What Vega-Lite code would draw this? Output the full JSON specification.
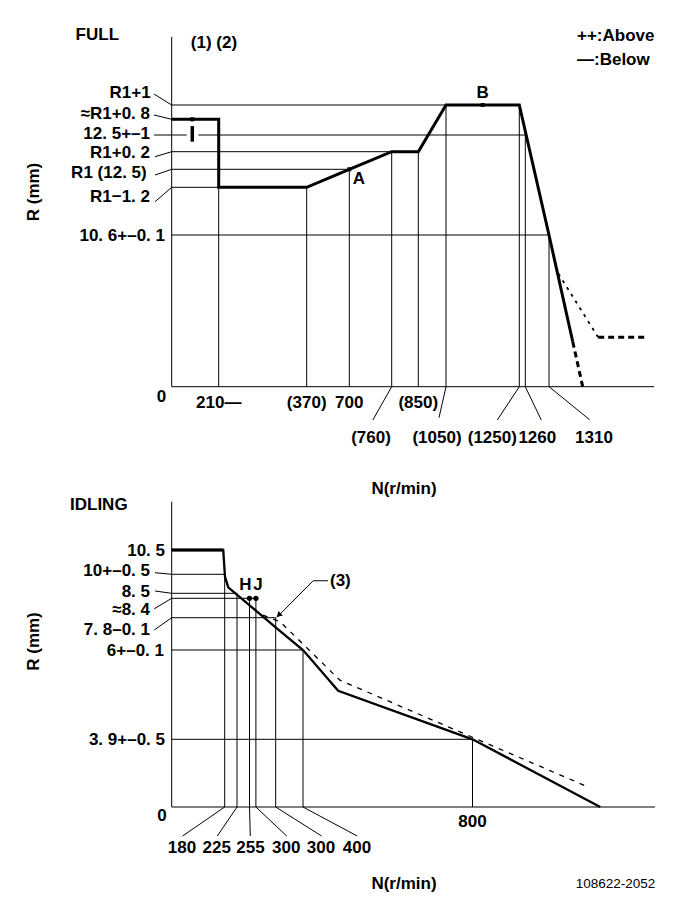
{
  "$schema": "https://vega.github.io/schema/vega-lite/v6.json",
  "padding": 0,
  "background": "white",
  "spacing": 0,
  "bounds": "flush",
  "config": {
    "view": {"stroke": null},
    "text": {"font": "Liberation Sans, Arial, sans-serif", "fontSize": 17, "fontWeight": "bold", "baseline": "middle", "align": "center", "color": "black"},
    "rule": {"color": "black", "strokeWidth": 1},
    "line": {"color": "black"},
    "point": {"color": "black"}
  },
  "vconcat": [
    {
      "width": 681,
      "height": 496,
      "encoding": {
        "x": {"field": "rpm", "type": "quantitative", "axis": null,
              "scale": {"domain": [0, 210, 370, 700, 760, 850, 1050, 1250, 1260, 1310, 1500], "range": [171.7, 218.7, 306.7, 349.3, 391.7, 418.3, 446, 519.3, 525.3, 549, 654], "nice": false, "zero": false}},
        "y": {"field": "mm", "type": "quantitative", "axis": null,
              "scale": {"domain": [0, 10.6, 11.3, 12.5, 12.7, 13.0, 13.3, 13.5, 14.5], "range": [386.7, 235, 187.3, 169.3, 151.7, 135, 119.3, 105, 37], "nice": false, "zero": false}}
      },
      "layer": [
        {"data": {"values": [
          {"rpm": 0, "mm": 0, "rpm2": 1500, "mm2": 0},
          {"rpm": 0, "mm": 0, "rpm2": 0, "mm2": 14.5},
          {"rpm": 0, "mm": 13.5, "rpm2": 1050, "mm2": 13.5},
          {"rpm": 0, "mm": 13.0, "rpm2": 67, "mm2": 13.0},
          {"rpm": 119, "mm": 13.0, "rpm2": 1260, "mm2": 13.0},
          {"rpm": 0, "mm": 12.7, "rpm2": 760, "mm2": 12.7},
          {"rpm": 0, "mm": 12.5, "rpm2": 700, "mm2": 12.5},
          {"rpm": 0, "mm": 11.3, "rpm2": 210, "mm2": 11.3},
          {"rpm": 0, "mm": 10.6, "rpm2": 1310, "mm2": 10.6},
          {"rpm": 210, "mm": 0, "rpm2": 210, "mm2": 13.3},
          {"rpm": 370, "mm": 0, "rpm2": 370, "mm2": 11.3},
          {"rpm": 700, "mm": 0, "rpm2": 700, "mm2": 12.5},
          {"rpm": 760, "mm": 0, "rpm2": 760, "mm2": 12.7},
          {"rpm": 850, "mm": 0, "rpm2": 850, "mm2": 12.7},
          {"rpm": 1050, "mm": 0, "rpm2": 1050, "mm2": 13.5},
          {"rpm": 1250, "mm": 0, "rpm2": 1250, "mm2": 13.5},
          {"rpm": 1260, "mm": 0, "rpm2": 1260, "mm2": 13.0},
          {"rpm": 1310, "mm": 0, "rpm2": 1310, "mm2": 10.6}
        ]}, "mark": {"type": "rule"}, "encoding": {"x2": {"field": "rpm2"}, "y2": {"field": "mm2"}}},
        {"data": {"values": [
          {"o": 1, "rpm": 0, "mm": 13.3}, {"o": 2, "rpm": 210, "mm": 13.3}, {"o": 3, "rpm": 210, "mm": 11.3},
          {"o": 4, "rpm": 370, "mm": 11.3}, {"o": 5, "rpm": 700, "mm": 12.5}, {"o": 6, "rpm": 760, "mm": 12.7},
          {"o": 7, "rpm": 850, "mm": 12.7}, {"o": 8, "rpm": 1050, "mm": 13.5}, {"o": 9, "rpm": 1250, "mm": 13.5},
          {"o": 10, "rpm": 1310, "mm": 10.6}, {"o": 11, "rpm": 1353, "mm": 3.14}
        ]}, "mark": {"type": "line", "strokeWidth": 3}, "encoding": {"order": {"field": "o"}}},
        {"data": {"values": [{"o": 1, "rpm": 1353, "mm": 3.14}, {"o": 2, "rpm": 1371, "mm": 0}]},
         "mark": {"type": "line", "strokeWidth": 3, "strokeDash": [6, 4]}, "encoding": {"order": {"field": "o"}}},
        {"data": {"values": [{"o": 1, "rpm": 1327, "mm": 7.9}, {"o": 2, "rpm": 1399, "mm": 3.45}]},
         "mark": {"type": "line", "strokeWidth": 1.8, "strokeDash": [3, 5]}, "encoding": {"order": {"field": "o"}}},
        {"data": {"values": [{"o": 1, "rpm": 1399, "mm": 3.45}, {"o": 2, "rpm": 1485, "mm": 3.45}]},
         "mark": {"type": "line", "strokeWidth": 3, "strokeDash": [6, 4]}, "encoding": {"order": {"field": "o"}}},
        {"data": {"values": [{"rpm": 92, "mm": 12.88, "rpm2": 92, "mm2": 13.17}]},
         "mark": {"type": "rule", "strokeWidth": 3.5}, "encoding": {"x2": {"field": "rpm2"}, "y2": {"field": "mm2"}}},
        {"data": {"values": [{"rpm": 92, "mm": 13.3}, {"rpm": 700, "mm": 12.5}, {"rpm": 1150, "mm": 13.5}]},
         "mark": {"type": "point", "shape": "square", "filled": true, "size": 16, "opacity": 1}},

        {"data": {"values": [{"rpm": 210, "mm": 0, "t": "210—"}, {"rpm": 370, "mm": 0, "t": "(370)"}, {"rpm": 700, "mm": 0, "t": "700"}, {"rpm": 850, "mm": 0, "t": "(850)"}]},
         "mark": {"type": "text", "dy": 16.6}, "encoding": {"text": {"field": "t"}}},
        {"data": {"values": [{"rpm": 760, "mm": 0, "t": "(760)"}]}, "mark": {"type": "text", "dx": -20.7, "dy": 51.6}, "encoding": {"text": {"field": "t"}}},
        {"data": {"values": [{"rpm": 1050, "mm": 0, "t": "(1050)"}]}, "mark": {"type": "text", "dx": -9, "dy": 51.6}, "encoding": {"text": {"field": "t"}}},
        {"data": {"values": [{"rpm": 1250, "mm": 0, "t": "(1250)"}]}, "mark": {"type": "text", "dx": -27, "dy": 51.6}, "encoding": {"text": {"field": "t"}}},
        {"data": {"values": [{"rpm": 1260, "mm": 0, "t": "1260"}]}, "mark": {"type": "text", "dx": 12, "dy": 51.6}, "encoding": {"text": {"field": "t"}}},
        {"data": {"values": [{"rpm": 1310, "mm": 0, "t": "1310"}]}, "mark": {"type": "text", "dx": 45, "dy": 51.6}, "encoding": {"text": {"field": "t"}}},
        {"data": {"values": [{"rpm": 760, "mm": 0}]}, "mark": {"type": "rule", "x2Offset": -18.9, "y2Offset": 33.3}, "encoding": {"x2": {"field": "rpm"}, "y2": {"field": "mm"}}},
        {"data": {"values": [{"rpm": 1050, "mm": 0}]}, "mark": {"type": "rule", "x2Offset": -7, "y2Offset": 31}, "encoding": {"x2": {"field": "rpm"}, "y2": {"field": "mm"}}},
        {"data": {"values": [{"rpm": 1250, "mm": 0}]}, "mark": {"type": "rule", "x2Offset": -22, "y2Offset": 33.3}, "encoding": {"x2": {"field": "rpm"}, "y2": {"field": "mm"}}},
        {"data": {"values": [{"rpm": 1260, "mm": 0}]}, "mark": {"type": "rule", "x2Offset": 16, "y2Offset": 33.3}, "encoding": {"x2": {"field": "rpm"}, "y2": {"field": "mm"}}},
        {"data": {"values": [{"rpm": 1310, "mm": 0}]}, "mark": {"type": "rule", "x2Offset": 40.6, "y2Offset": 33}, "encoding": {"x2": {"field": "rpm"}, "y2": {"field": "mm"}}},
        {"data": {"values": [{"rpm": 0, "mm": 0, "t": "0"}]}, "mark": {"type": "text", "dx": -10.2, "dy": 9.8}, "encoding": {"text": {"field": "t"}}},

        {"data": {"values": [{"rpm": 0, "mm": 13.5, "t": "R1+1"}]}, "mark": {"type": "text", "align": "right", "dx": -21, "dy": -12.5}, "encoding": {"text": {"field": "t"}}},
        {"data": {"values": [{"rpm": 0, "mm": 13.3, "t": "≈R1+0. 8"}]}, "mark": {"type": "text", "align": "right", "dx": -21.7, "dy": -5.6}, "encoding": {"text": {"field": "t"}}},
        {"data": {"values": [{"rpm": 0, "mm": 13.0, "t": "12. 5+–1"}]}, "mark": {"type": "text", "align": "right", "dx": -21.7, "dy": -1}, "encoding": {"text": {"field": "t"}}},
        {"data": {"values": [{"rpm": 0, "mm": 12.7, "t": "R1+0. 2"}]}, "mark": {"type": "text", "align": "right", "dx": -21.7, "dy": 1.3}, "encoding": {"text": {"field": "t"}}},
        {"data": {"values": [{"rpm": 0, "mm": 12.5, "t": "R1 (12. 5)"}]}, "mark": {"type": "text", "align": "right", "dx": -25, "dy": 3.2}, "encoding": {"text": {"field": "t"}}},
        {"data": {"values": [{"rpm": 0, "mm": 11.3, "t": "R1−1. 2"}]}, "mark": {"type": "text", "align": "right", "dx": -21.7, "dy": 9.7}, "encoding": {"text": {"field": "t"}}},
        {"data": {"values": [{"rpm": 0, "mm": 10.6, "t": "10. 6+–0. 1"}]}, "mark": {"type": "text", "align": "right", "dx": -6.7, "dy": 0.5}, "encoding": {"text": {"field": "t"}}},
        {"data": {"values": [{"rpm": 0, "mm": 13.5}]}, "mark": {"type": "rule", "x2Offset": -17.7, "y2Offset": -11}, "encoding": {"x2": {"field": "rpm"}, "y2": {"field": "mm"}}},
        {"data": {"values": [{"rpm": 0, "mm": 13.3}]}, "mark": {"type": "rule", "x2Offset": -17.7, "y2Offset": -4.3}, "encoding": {"x2": {"field": "rpm"}, "y2": {"field": "mm"}}},
        {"data": {"values": [{"rpm": 0, "mm": 13.0}]}, "mark": {"type": "rule", "x2Offset": -17.7, "y2Offset": 0}, "encoding": {"x2": {"field": "rpm"}, "y2": {"field": "mm"}}},
        {"data": {"values": [{"rpm": 0, "mm": 12.7}]}, "mark": {"type": "rule", "x2Offset": -16.7, "y2Offset": 5}, "encoding": {"x2": {"field": "rpm"}, "y2": {"field": "mm"}}},
        {"data": {"values": [{"rpm": 0, "mm": 12.5}]}, "mark": {"type": "rule", "x2Offset": -16.7, "y2Offset": 5.7}, "encoding": {"x2": {"field": "rpm"}, "y2": {"field": "mm"}}},
        {"data": {"values": [{"rpm": 0, "mm": 11.3}]}, "mark": {"type": "rule", "x2Offset": -16.7, "y2Offset": 14.4}, "encoding": {"x2": {"field": "rpm"}, "y2": {"field": "mm"}}},

        {"data": {"values": [{"rpm": 0, "mm": 14.5, "t": "FULL"}]}, "mark": {"type": "text", "dx": -74.4, "dy": -1.7}, "encoding": {"text": {"field": "t"}}},
        {"data": {"values": [{"rpm": 0, "mm": 14.5, "t": "(1) (2)"}]}, "mark": {"type": "text", "dx": 42.3, "dy": 5.5}, "encoding": {"text": {"field": "t"}}},
        {"data": {"values": [{"rpm": 1500, "mm": 14.5, "t": "++:Above"}]}, "mark": {"type": "text", "align": "left", "dx": -77, "dy": -1}, "encoding": {"text": {"field": "t"}}},
        {"data": {"values": [{"rpm": 1500, "mm": 14.5, "t": "—:Below"}]}, "mark": {"type": "text", "align": "left", "dx": -77, "dy": 22.7}, "encoding": {"text": {"field": "t"}}},
        {"data": {"values": [{"rpm": 0, "mm": 12.5, "t": "R (mm)"}]}, "mark": {"type": "text", "angle": 270, "dx": -22.7, "dy": -137.7}, "encoding": {"text": {"field": "t"}}},
        {"data": {"values": [{"rpm": 0, "mm": 0, "t": "N(r/min)"}]}, "mark": {"type": "text", "dx": 232.3, "dy": 102.3}, "encoding": {"text": {"field": "t"}}},
        {"data": {"values": [{"rpm": 700, "mm": 12.5, "t": "A"}]}, "mark": {"type": "text", "dx": 9.7, "dy": 9.2}, "encoding": {"text": {"field": "t"}}},
        {"data": {"values": [{"rpm": 1150, "mm": 13.5, "t": "B"}]}, "mark": {"type": "text", "dx": 0, "dy": -12.5}, "encoding": {"text": {"field": "t"}}}
      ]
    },
    {
      "width": 681,
      "height": 414,
      "encoding": {
        "x": {"field": "rpm", "type": "quantitative", "axis": null,
              "scale": {"domain": [0, 180, 225, 255, 300, 400, 800, 1200], "range": [171.7, 224.7, 237, 249.5, 275.7, 303, 472.5, 655], "nice": false, "zero": false}},
        "y": {"field": "mm", "type": "quantitative", "axis": null,
              "scale": {"domain": [0, 3.9, 6, 7.8, 8.4, 8.5, 10, 10.5, 12.5], "range": [311, 243.3, 154, 121.7, 102.3, 97.3, 78.3, 54, 5.7], "nice": false, "zero": false}}
      },
      "layer": [
        {"data": {"values": [
          {"rpm": 0, "mm": 0, "rpm2": 1200, "mm2": 0},
          {"rpm": 0, "mm": 0, "rpm2": 0, "mm2": 12.5},
          {"rpm": 0, "mm": 10, "rpm2": 180, "mm2": 10},
          {"rpm": 0, "mm": 8.5, "rpm2": 225, "mm2": 8.5},
          {"rpm": 0, "mm": 8.4, "rpm2": 266, "mm2": 8.4},
          {"rpm": 0, "mm": 7.8, "rpm2": 300, "mm2": 7.8},
          {"rpm": 0, "mm": 6, "rpm2": 400, "mm2": 6},
          {"rpm": 0, "mm": 3.9, "rpm2": 800, "mm2": 3.9},
          {"rpm": 180, "mm": 0, "rpm2": 180, "mm2": 10},
          {"rpm": 225, "mm": 0, "rpm2": 225, "mm2": 8.5},
          {"rpm": 255, "mm": 0, "rpm2": 255, "mm2": 8.4},
          {"rpm": 266, "mm": 0, "rpm2": 266, "mm2": 8.4},
          {"rpm": 300, "mm": 0, "rpm2": 300, "mm2": 7.8},
          {"rpm": 400, "mm": 0, "rpm2": 400, "mm2": 6},
          {"rpm": 800, "mm": 0, "rpm2": 800, "mm2": 3.9}
        ]}, "mark": {"type": "rule"}, "encoding": {"x2": {"field": "rpm2"}, "y2": {"field": "mm2"}}},
        {"data": {"values": [
          {"o": 1, "rpm": 0, "mm": 10.5}, {"o": 2, "rpm": 175, "mm": 10.5}, {"o": 3, "rpm": 181, "mm": 9.81},
          {"o": 4, "rpm": 193, "mm": 8.97}, {"o": 5, "rpm": 304, "mm": 7.21}, {"o": 6, "rpm": 400, "mm": 6},
          {"o": 7, "rpm": 483, "mm": 5.04}, {"o": 8, "rpm": 800, "mm": 3.9}, {"o": 9, "rpm": 1080, "mm": 0}
        ]}, "mark": {"type": "line", "strokeWidth": 2.3}, "encoding": {"order": {"field": "o"}}},
        {"data": {"values": [{"o": 1, "rpm": 0, "mm": 10.5}, {"o": 2, "rpm": 175, "mm": 10.5}]},
         "mark": {"type": "line", "strokeWidth": 3.2}, "encoding": {"order": {"field": "o"}}},
        {"data": {"values": [{"o": 1, "rpm": 278, "mm": 7.88}, {"o": 2, "rpm": 316, "mm": 7.58}, {"o": 3, "rpm": 487, "mm": 5.29}, {"o": 4, "rpm": 1050, "mm": 1.19}]},
         "mark": {"type": "line", "strokeWidth": 1.3, "strokeDash": [5, 6]}, "encoding": {"order": {"field": "o"}}},
        {"data": {"values": [{"o": 1, "rpm": 459, "mm": 9.49}, {"o": 2, "rpm": 424, "mm": 9.49}, {"o": 3, "rpm": 304, "mm": 7.81}]},
         "mark": {"type": "line", "strokeWidth": 1}, "encoding": {"order": {"field": "o"}}},
        {"data": {"values": [{"rpm": 311, "mm": 7.88}]},
         "mark": {"type": "point", "shape": "triangle-up", "angle": 225, "filled": true, "size": 40, "opacity": 1}},
        {"data": {"values": [{"rpm": 255, "mm": 8.4}, {"rpm": 266, "mm": 8.4}]},
         "mark": {"type": "point", "shape": "circle", "filled": true, "size": 28, "opacity": 1}},

        {"data": {"values": [{"rpm": 0, "mm": 10.5, "t": "10. 5"}]}, "mark": {"type": "text", "align": "right", "dx": -6.7, "dy": 0.8}, "encoding": {"text": {"field": "t"}}},
        {"data": {"values": [{"rpm": 0, "mm": 10, "t": "10+–0. 5"}]}, "mark": {"type": "text", "align": "right", "dx": -21.7, "dy": -3.3}, "encoding": {"text": {"field": "t"}}},
        {"data": {"values": [{"rpm": 0, "mm": 8.5, "t": "8. 5"}]}, "mark": {"type": "text", "align": "right", "dx": -21.7, "dy": -1.3}, "encoding": {"text": {"field": "t"}}},
        {"data": {"values": [{"rpm": 0, "mm": 8.4, "t": "≈8. 4"}]}, "mark": {"type": "text", "align": "right", "dx": -21.7, "dy": 11.7}, "encoding": {"text": {"field": "t"}}},
        {"data": {"values": [{"rpm": 0, "mm": 7.8, "t": "7. 8–0. 1"}]}, "mark": {"type": "text", "align": "right", "dx": -21.7, "dy": 12}, "encoding": {"text": {"field": "t"}}},
        {"data": {"values": [{"rpm": 0, "mm": 6, "t": "6+–0. 1"}]}, "mark": {"type": "text", "align": "right", "dx": -7.7, "dy": 0.5}, "encoding": {"text": {"field": "t"}}},
        {"data": {"values": [{"rpm": 0, "mm": 3.9, "t": "3. 9+–0. 5"}]}, "mark": {"type": "text", "align": "right", "dx": -6.7, "dy": 0.7}, "encoding": {"text": {"field": "t"}}},
        {"data": {"values": [{"rpm": 0, "mm": 10}]}, "mark": {"type": "rule", "x2Offset": -16.7, "y2Offset": -1.6}, "encoding": {"x2": {"field": "rpm"}, "y2": {"field": "mm"}}},
        {"data": {"values": [{"rpm": 0, "mm": 8.5}]}, "mark": {"type": "rule", "x2Offset": -16.7, "y2Offset": -2.3}, "encoding": {"x2": {"field": "rpm"}, "y2": {"field": "mm"}}},
        {"data": {"values": [{"rpm": 0, "mm": 8.4}]}, "mark": {"type": "rule", "x2Offset": -17.5, "y2Offset": 10.5}, "encoding": {"x2": {"field": "rpm"}, "y2": {"field": "mm"}}},
        {"data": {"values": [{"rpm": 0, "mm": 7.8}]}, "mark": {"type": "rule", "x2Offset": -17.5, "y2Offset": 12.3}, "encoding": {"x2": {"field": "rpm"}, "y2": {"field": "mm"}}},

        {"data": {"values": [{"rpm": 0, "mm": 0, "t": "0"}]}, "mark": {"type": "text", "dx": -9.7, "dy": 9}, "encoding": {"text": {"field": "t"}}},
        {"data": {"values": [{"rpm": 800, "mm": 0, "t": "800"}]}, "mark": {"type": "text", "dy": 14.5}, "encoding": {"text": {"field": "t"}}},
        {"data": {"values": [{"rpm": 180, "mm": 0, "t": "180"}]}, "mark": {"type": "text", "dx": -42.7, "dy": 41.3}, "encoding": {"text": {"field": "t"}}},
        {"data": {"values": [{"rpm": 225, "mm": 0, "t": "225"}]}, "mark": {"type": "text", "dx": -20.3, "dy": 41.3}, "encoding": {"text": {"field": "t"}}},
        {"data": {"values": [{"rpm": 255, "mm": 0, "t": "255"}]}, "mark": {"type": "text", "dx": 1, "dy": 41.3}, "encoding": {"text": {"field": "t"}}},
        {"data": {"values": [{"rpm": 266, "mm": 0, "t": "300"}]}, "mark": {"type": "text", "dx": 30.3, "dy": 41.3}, "encoding": {"text": {"field": "t"}}},
        {"data": {"values": [{"rpm": 300, "mm": 0, "t": "300"}]}, "mark": {"type": "text", "dx": 45.3, "dy": 41.3}, "encoding": {"text": {"field": "t"}}},
        {"data": {"values": [{"rpm": 400, "mm": 0, "t": "400"}]}, "mark": {"type": "text", "dx": 54, "dy": 41.3}, "encoding": {"text": {"field": "t"}}},
        {"data": {"values": [{"rpm": 180, "mm": 0}]}, "mark": {"type": "rule", "x2Offset": -42.1, "y2Offset": 29}, "encoding": {"x2": {"field": "rpm"}, "y2": {"field": "mm"}}},
        {"data": {"values": [{"rpm": 225, "mm": 0}]}, "mark": {"type": "rule", "x2Offset": -19.7, "y2Offset": 29}, "encoding": {"x2": {"field": "rpm"}, "y2": {"field": "mm"}}},
        {"data": {"values": [{"rpm": 255, "mm": 0}]}, "mark": {"type": "rule", "x2Offset": 0.8, "y2Offset": 29}, "encoding": {"x2": {"field": "rpm"}, "y2": {"field": "mm"}}},
        {"data": {"values": [{"rpm": 266, "mm": 0}]}, "mark": {"type": "rule", "x2Offset": 30.8, "y2Offset": 29}, "encoding": {"x2": {"field": "rpm"}, "y2": {"field": "mm"}}},
        {"data": {"values": [{"rpm": 300, "mm": 0}]}, "mark": {"type": "rule", "x2Offset": 45.9, "y2Offset": 29}, "encoding": {"x2": {"field": "rpm"}, "y2": {"field": "mm"}}},
        {"data": {"values": [{"rpm": 400, "mm": 0}]}, "mark": {"type": "rule", "x2Offset": 54.2, "y2Offset": 29}, "encoding": {"x2": {"field": "rpm"}, "y2": {"field": "mm"}}},

        {"data": {"values": [{"rpm": 0, "mm": 12.5, "t": "IDLING"}]}, "mark": {"type": "text", "dx": -72.9, "dy": 3.3}, "encoding": {"text": {"field": "t"}}},
        {"data": {"values": [{"rpm": 0, "mm": 7.8, "t": "R (mm)"}]}, "mark": {"type": "text", "angle": 270, "dx": -23.8, "dy": -137.7}, "encoding": {"text": {"field": "t"}}},
        {"data": {"values": [{"rpm": 0, "mm": 0, "t": "N(r/min)"}]}, "mark": {"type": "text", "dx": 232.3, "dy": 77}, "encoding": {"text": {"field": "t"}}},
        {"data": {"values": [{"rpm": 1200, "mm": 0, "t": "108622-2052"}]}, "mark": {"type": "text", "fontSize": 13.5, "fontWeight": "normal", "dx": -39.5, "dy": 77}, "encoding": {"text": {"field": "t"}}},
        {"data": {"values": [{"rpm": 255, "mm": 8.4, "t": "H"}]}, "mark": {"type": "text", "dx": -4, "dy": -13.3}, "encoding": {"text": {"field": "t"}}},
        {"data": {"values": [{"rpm": 266, "mm": 8.4, "t": "J"}]}, "mark": {"type": "text", "dx": 2, "dy": -13.3}, "encoding": {"text": {"field": "t"}}},
        {"data": {"values": [{"rpm": 459, "mm": 9.49, "t": "(3)"}]}, "mark": {"type": "text", "align": "left", "dx": 2, "dy": 0.3}, "encoding": {"text": {"field": "t"}}}
      ]
    }
  ]
}
